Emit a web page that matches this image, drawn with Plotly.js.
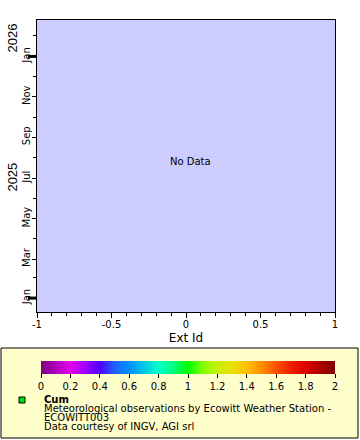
<!DOCTYPE html>
<html>
<head>
<meta charset="utf-8">
<script src="https://cdn.plot.ly/plotly-3.0.1.min.js"></script>
<style>html,body{margin:0;padding:0;background:#fff;}#chart{width:360px;height:440px;}</style>
</head>
<body>
<div id="chart"></div>
<script>
// ---- data ----
var xTickVals = [-1, -0.5, 0, 0.5, 1];
var xTickText = ["-1", "-0.5", "0", "0.5", "1"];
var xRange = [-1, 1];
var yRange = ["2024-12-11", "2026-02-25"];
var yTickVals = ["2025-01-01", "2025-03-01", "2025-05-01", "2025-07-01", "2025-09-01", "2025-11-01", "2026-01-01"];
var yTickText = ["Jan", "Mar", "May", "Jul", "Sep", "Nov", "Jan"];
var yearLabels = ["2025", "2026"];
var yearCenters = ["2025-07-02", "2026-01-28"];
var yearStarts = ["2025-01-01", "2026-01-01"];
var cbTickVals = [0, 0.2, 0.4, 0.6, 0.8, 1, 1.2, 1.4, 1.6, 1.8, 2];
var cbTickText = ["0", "0.2", "0.4", "0.6", "0.8", "1", "1.2", "1.4", "1.6", "1.8", "2"];
var cbRange = [0, 2];
var seriesName = "Cum";
var sourceLines = ["Meteorological observations by Ecowitt Weather Station -", "ECOWITT003", "Data courtesy of INGV, AGI srl"];
var colorscale = [
  [0.0, "#800080"], [0.1, "#b000c0"], [0.2, "#e000e8"], [0.3, "#a000ff"], [0.4, "#5000ff"],
  [0.5, "#2060ff"], [0.6, "#0090ff"], [0.7, "#00c8e8"], [0.8, "#00ffc8"], [0.9, "#00ff80"],
  [1.0, "#00ff00"], [1.1, "#80ff00"], [1.2, "#c8f000"], [1.3, "#e8e000"], [1.4, "#ffc000"],
  [1.5, "#ff9000"], [1.6, "#ff5000"], [1.7, "#f02000"], [1.8, "#e00000"], [1.9, "#b00000"], [2.0, "#800000"]
].map(function (p) { return [p[0] / 2, p[1]]; });

// ---- geometry helpers (pixel -> paper) ----
var L = 37, R = 25, T = 20, B = 128, W = 360, H = 440;
var pw = W - L - R, ph = H - T - B;
function px(x) { return (x - L) / pw; }
function py(y) { return (H - B - y) / ph; }

var font = "DejaVu Sans, sans-serif";

var traces = [{
  type: "scatter", mode: "markers",
  x: [5], y: [yearCenters[0]], name: seriesName,
  hoverinfo: "skip", showlegend: false, cliponaxis: true,
  marker: {
    color: [1], cmin: cbRange[0], cmax: cbRange[1], colorscale: colorscale, opacity: 0, size: 1,
    showscale: true,
    colorbar: {
      orientation: "h", thickness: 13, thicknessmode: "pixels",
      len: 294, lenmode: "pixels",
      x: px(188), xanchor: "center", y: py(361), yanchor: "top",
      xpad: 0, ypad: 0, outlinewidth: 0, borderwidth: 0, bgcolor: "rgba(0,0,0,0)",
      ticks: "outside", ticklen: 4, tickwidth: 1, tickcolor: "#000",
      tickvals: cbTickVals, ticktext: cbTickText,
      tickfont: { family: font, size: 10, color: "#000" }
    }
  }
}];

var shapes = [
  { type: "rect", xref: "paper", yref: "paper", layer: "below",
    x0: px(1), x1: px(358), y0: py(348), y1: py(438),
    fillcolor: "#ffffcc", line: { color: "#000", width: 1 } },
  { type: "rect", xref: "paper", yref: "paper",
    x0: px(19), x1: px(25), y0: py(397), y1: py(403),
    fillcolor: "#00dd00", line: { color: "#000", width: 1 } }
];
yearStarts.forEach(function (d) {
  shapes.push({ type: "line", xref: "paper", yref: "y", x0: px(28), x1: 0, y0: d, y1: d,
    line: { color: "#000", width: 3 } });
});

var annotations = [
  { text: "No Data", xref: "paper", yref: "paper", x: px(190), y: py(161), xanchor: "center", yanchor: "middle",
    showarrow: false, font: { family: font, size: 10, color: "#000" } },
  { text: "<b>" + seriesName + "</b>", xref: "paper", yref: "paper", x: px(42), y: py(400), xanchor: "left", yanchor: "middle",
    showarrow: false, font: { family: font, size: 10, color: "#000" } }
];
var lineYs = [408.5, 417, 426];
sourceLines.forEach(function (t, i) {
  annotations.push({ text: t, xref: "paper", yref: "paper", x: px(42), y: py(lineYs[i]), xanchor: "left", yanchor: "middle",
    showarrow: false, font: { family: font, size: 10, color: "#000" } });
});
yearLabels.forEach(function (t, i) {
  annotations.push({ text: t, xref: "paper", yref: "y", x: px(13), y: yearCenters[i], xanchor: "center", yanchor: "middle",
    textangle: -90, showarrow: false, font: { family: "Liberation Sans, Arial, sans-serif", size: 13, color: "#000" } });
});

var layout = {
  width: W, height: H,
  margin: { l: L, r: R, t: T, b: B, pad: 0 },
  paper_bgcolor: "#ffffff", plot_bgcolor: "#ccccff",
  showlegend: false,
  xaxis: {
    range: xRange, tickvals: xTickVals, ticktext: xTickText,
    ticks: "outside", ticklen: 5, tickwidth: 1, tickcolor: "#000",
    minor: { dtick: 0.1, tick0: 0, ticks: "outside", ticklen: 3, tickcolor: "#000", showgrid: false },
    showline: true, linecolor: "#000", linewidth: 1, mirror: true,
    showgrid: false, zeroline: false, fixedrange: true,
    tickfont: { family: font, size: 10, color: "#000" },
    ticklabelstandoff: -2,
    title: { text: "Ext Id", font: { family: font, size: 12, color: "#000" }, standoff: 4 }
  },
  yaxis: {
    type: "date", range: yRange, tickvals: yTickVals, ticktext: yTickText, tickangle: -90,
    ticks: "outside", ticklen: 4, tickwidth: 1, tickcolor: "#000",
    minor: { dtick: "M1", tick0: "2025-01-01", ticks: "outside", ticklen: 3, tickcolor: "#000", showgrid: false },
    showline: true, linecolor: "#000", linewidth: 1, mirror: true,
    showgrid: false, zeroline: false, fixedrange: true,
    ticklabelstandoff: -2,
    tickfont: { family: font, size: 10, color: "#000" }
  },
  shapes: shapes,
  annotations: annotations
};

Plotly.newPlot("chart", traces, layout, { staticPlot: true, displayModeBar: false });
</script>
</body>
</html>
